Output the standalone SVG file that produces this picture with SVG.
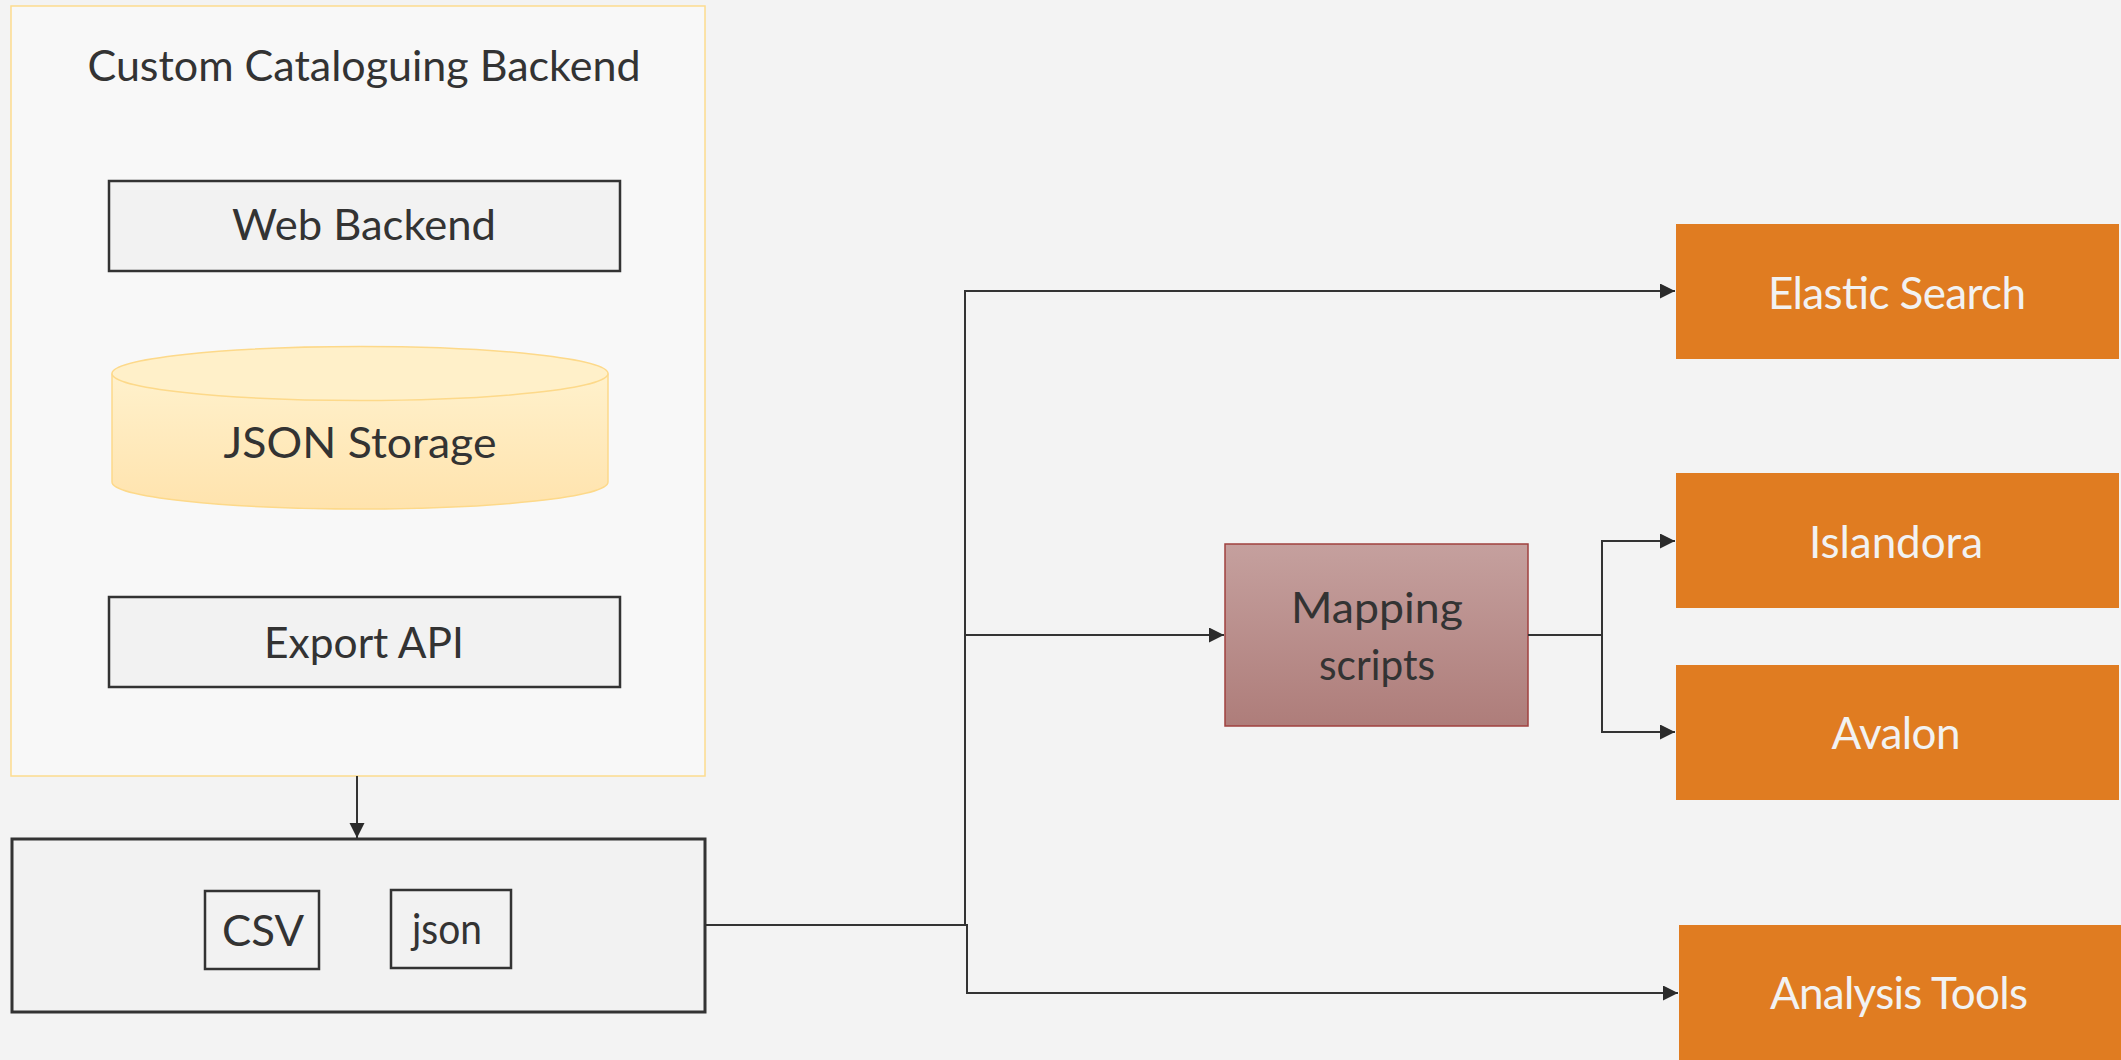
<svg xmlns="http://www.w3.org/2000/svg" width="2121" height="1060" viewBox="0 0 2121 1060">
<style>
.lbl{font-family:Lato,"Open Sans","Liberation Sans",sans-serif;fill:#333333;text-anchor:middle;font-size:42px}
.wlbl{font-family:Lato,"Open Sans","Liberation Sans",sans-serif;fill:#f2f2f2;text-anchor:middle;font-size:44px}
.box{fill:#f2f2f2;stroke:#333333;stroke-width:2.5}
.orange{fill:#e07c21}
.conn{fill:none;stroke:#333333;stroke-width:2}
</style>
<defs>
<marker id="arr" markerUnits="userSpaceOnUse" markerWidth="16" markerHeight="16" refX="15" refY="7.5" orient="auto">
<path d="M0,0 L15,7.5 L0,15 z" fill="#2b2b2b"/>
</marker>
<linearGradient id="cyl" x1="0" y1="0" x2="0" y2="1">
<stop offset="0" stop-color="#fff1cc"/>
<stop offset="1" stop-color="#ffe3ad"/>
</linearGradient>
<linearGradient id="map" x1="0" y1="0" x2="0" y2="1">
<stop offset="0" stop-color="#c5a09e"/>
<stop offset="1" stop-color="#ae7d7a"/>
</linearGradient>
</defs>
<rect x="0" y="0" width="2121" height="1060" fill="#f3f3f3"/>

<g id="container">
<rect x="11" y="6" width="694" height="770" fill="#f8f8f8" stroke="#fddc8e" stroke-width="1.5"/>
<text class="lbl" x="364" y="81" textLength="553" lengthAdjust="spacingAndGlyphs">Custom Cataloguing Backend</text>
</g>

<g id="web-backend">
<rect class="box" x="109" y="181" width="511" height="90"/>
<text class="lbl" x="364" y="240" textLength="264" lengthAdjust="spacingAndGlyphs">Web Backend</text>
</g>

<g id="json-storage">
<path d="M112,373.5 V482 A248,27 0 0 0 608,482 V373.5" fill="url(#cyl)" stroke="#fdd98a" stroke-width="1.5"/>
<ellipse cx="360" cy="373.5" rx="248" ry="27" fill="#fff0c9" stroke="#fdd98a" stroke-width="1.5"/>
<text class="lbl" x="360" y="458" textLength="273" lengthAdjust="spacingAndGlyphs">JSON Storage</text>
</g>

<g id="export-api">
<rect class="box" x="109" y="597" width="511" height="90"/>
<text class="lbl" x="364" y="658" textLength="200" lengthAdjust="spacingAndGlyphs">Export API</text>
</g>

<g id="output">
<rect x="12" y="839" width="693" height="173" fill="#f2f2f2" stroke="#333333" stroke-width="3"/>
</g>

<g id="csv">
<rect class="box" x="205" y="891" width="114" height="78"/>
<text class="lbl" x="263" y="946" textLength="82" lengthAdjust="spacingAndGlyphs">CSV</text>
</g>

<g id="json">
<rect class="box" x="391" y="890" width="120" height="78"/>
<text class="lbl" x="447" y="944" textLength="70" lengthAdjust="spacingAndGlyphs">json</text>
</g>

<g id="mapping-scripts">
<rect x="1225" y="544" width="303" height="182" fill="url(#map)" stroke="#a0413f" stroke-width="1.5"/>
<text class="lbl" x="1377" y="623" textLength="172" lengthAdjust="spacingAndGlyphs">Mapping</text>
<text class="lbl" x="1377" y="680" textLength="116" lengthAdjust="spacingAndGlyphs">scripts</text>
</g>

<g id="elastic-search">
<rect class="orange" x="1676" y="224" width="443" height="135"/>
<text class="wlbl" x="1897" y="309" textLength="258">Elastic Search</text>
</g>

<g id="islandora">
<rect class="orange" x="1676" y="473" width="443" height="135"/>
<text class="wlbl" x="1896" y="558" textLength="174">Islandora</text>
</g>

<g id="avalon">
<rect class="orange" x="1676" y="665" width="443" height="135"/>
<text class="wlbl" x="1896" y="749" textLength="129">Avalon</text>
</g>

<g id="analysis-tools">
<rect class="orange" x="1679" y="925" width="442" height="135"/>
<text class="wlbl" x="1899" y="1009" textLength="258">Analysis Tools</text>
</g>

<g id="connectors">
<path class="conn" d="M357,776 V838" marker-end="url(#arr)"/>
<path class="conn" d="M705,925 H965 V291 H1675" marker-end="url(#arr)"/>
<path class="conn" d="M705,925 H965 V635 H1224" marker-end="url(#arr)"/>
<path class="conn" d="M705,925 H967 V993 H1678" marker-end="url(#arr)"/>
<path class="conn" d="M1528,635 H1602 V541 H1675" marker-end="url(#arr)"/>
<path class="conn" d="M1528,635 H1602 V732 H1675" marker-end="url(#arr)"/>
</g>
</svg>
